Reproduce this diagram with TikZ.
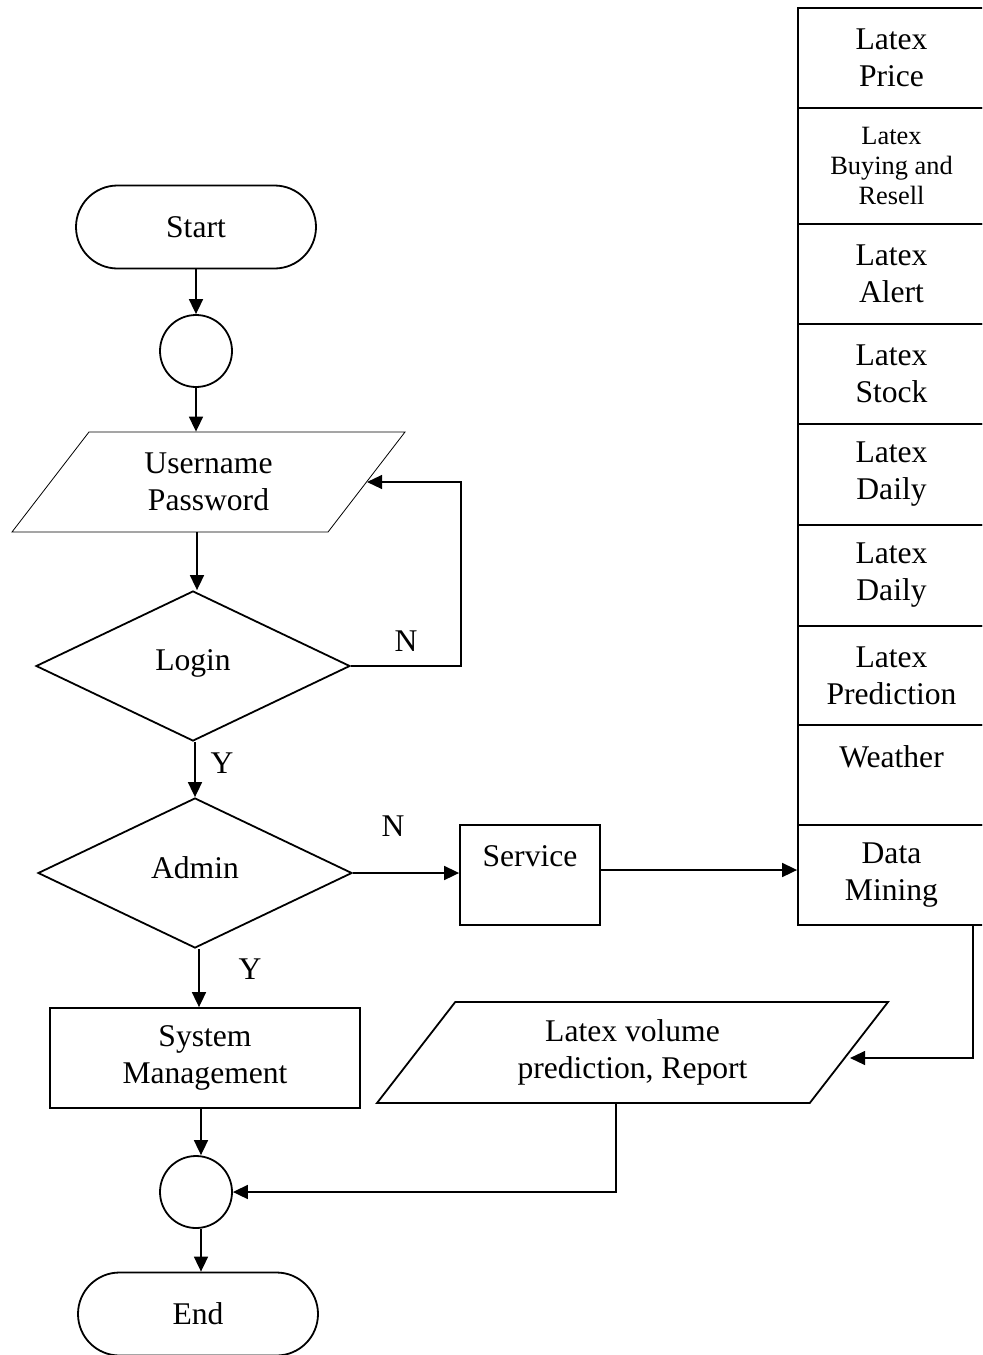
\documentclass[tikz,border=0pt]{standalone}
\usepackage{fontspec}
\setmainfont{Liberation Serif}
\usetikzlibrary{shapes.geometric,shapes.misc,arrows.meta,calc}
\begin{document}
\begin{tikzpicture}[x=0.5pt,y=-0.5pt,
  every node/.style={font=\fontsize{15.8pt}{18.5pt}\selectfont, align=center, inner sep=0pt},
  base/.style={draw=black, line width=0.9pt},
  term/.style={base, rounded rectangle, minimum width=120pt, minimum height=41.5pt},
  conn/.style={base, circle, minimum size=36pt},
  io/.style={base, trapezium, trapezium stretches body},
  decide/.style={base, diamond, minimum width=157pt, minimum height=75pt},
  proc/.style={base, rectangle},
  col/.style={base, rectangle, minimum width=93.5pt},
  small/.style={font=\fontsize{13.2pt}{15pt}\selectfont},
  arr/.style={line width=0.85pt, -{Triangle[length=7.5pt,width=7pt]}},
  thin/.style={line width=0.6pt},
  lbl/.style={}
]
\useasboundingbox (0,0) rectangle (982,1355);
\clip (0,0) rectangle (982,1355);

% left flow
\node[term] (start) at (196,227) {Start};
\node[conn] (c1) at (196,351) {};
\node[io, line width=0.4pt, trapezium left angle=37, trapezium right angle=143,
      minimum width=196.5pt, minimum height=50pt] (user) at (208.5,482) {Username\\Password};
\node[decide] (login) at (193,666) {\raisebox{5.5pt}{Login}};
\node[decide] (admin) at (195,873) {\raisebox{5.5pt}{Admin}};
\node[proc, minimum width=70pt, minimum height=50pt] (service) at (530,875) {Service\\\mbox{}};
\node[proc, minimum width=155pt, minimum height=50pt] (sys) at (205,1058) {System\\Management};
\node[conn] (c2) at (196,1192) {};
\node[term] (end) at (198,1314) {End};

% right column
\node[col, minimum height=50pt] (p1) at (891.5,58) {Latex\\Price};
\node[col, minimum height=58pt, small] (p2) at (891.5,166) {Latex\\Buying and\\Resell};
\node[col, minimum height=50pt] (p3) at (891.5,274) {Latex\\Alert};
\node[col, minimum height=50pt] (p4) at (891.5,374) {Latex\\Stock};
\node[col, minimum height=50.5pt] (p5) at (891.5,474.5) {Latex\\Daily};
\node[col, minimum height=50.5pt] (p6) at (891.5,575.5) {Latex\\Daily};
\node[col, minimum height=49.5pt] (p7) at (891.5,675.5) {Latex\\Prediction};
\node[col, minimum height=50pt] (p8) at (891.5,775) {Weather\\\mbox{}};
\node[col, minimum height=50pt] (p9) at (891.5,875) {Data\\Mining};

% report
\node[io, trapezium left angle=40, trapezium right angle=140,
      minimum width=255.5pt, minimum height=50.5pt] (report) at (632.5,1052.5) {Latex volume\\prediction, Report};

% connectors
\draw[arr] (start.south) -- (c1.north);
\draw[arr] (c1.south) -- (c1.south |- user.north);
\draw[arr] ([xshift=2pt]login.north |- user.south) -- ([xshift=2pt]login.north);
\draw[arr, thin] (login.east) -- ++(110,0) |- (user.east);
\node[lbl] (n1) at (406,641) {N};
\draw[arr] (admin.north |- login.south) -- (admin.north);
\node[lbl] (y1) at (222,763) {Y};
\draw[arr] (admin.east) -- (service.west |- admin.east);
\node[lbl] (n2) at (393,826) {N};
\draw[arr] ([yshift=2.5pt]service.east) -- ([yshift=2.5pt]service.east -| p9.west);
\draw[arr] ([xshift=2pt]admin.south) -- ([xshift=2pt]admin.south |- sys.north);
\node[lbl] (y2) at (250,969) {Y};
\draw[arr] ([xshift=2.5pt]c2.north |- sys.south) -- ([xshift=2.5pt]c2.north);
\draw[arr] ([xshift=2.5pt]c2.south) -- ([xshift=2.5pt]c2.south |- end.north);
\draw[arr, thin] ([xshift=40.75pt]p9.south) |- ([yshift=-2.75pt]report.east);
\draw[arr] ([xshift=-8.25pt]report.south) |- (c2.east);
\end{tikzpicture}
\end{document}
